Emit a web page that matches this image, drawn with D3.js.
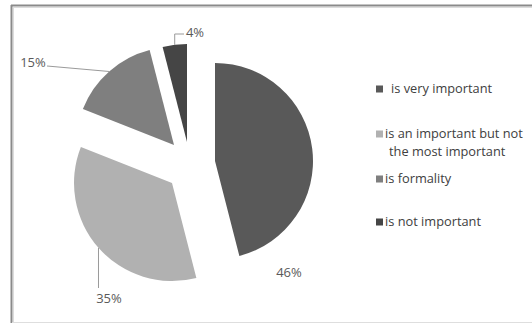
<!DOCTYPE html>
<html><head><meta charset="utf-8">
<script src="https://cdn.jsdelivr.net/npm/d3@7/dist/d3.min.js"></script>
<style>html,body{margin:0;padding:0;background:#fff;}svg{display:block;}</style>
</head><body>
<svg id="chart" width="532" height="323"></svg>
<script>
// ---- data ----
const categories = ["is very important", "is an important but not the most important", "is formality", "is not important"];
const legendLines = [["is very important"], ["is an important but not", "the most important"], ["is formality"], ["is not important"]];
const values = [46, 35, 15, 4];
const labels = ["46%", "35%", "15%", "4%"];

// ---- styling / layout config ----
const colors = ["#595959", "#b1b1b1", "#7f7f7f", "#454545"];
const center = [190, 161];
const radius = 98;
const explode = [[25, 0], [-18, 22], [-16, -16], [-3, -19]];
const labelPos = [[289, 272], [109, 298], [33, 62], [195, 32]];
const font = "'Open Sans', Lato, sans-serif";

const svg = d3.select("#chart");

// frame
svg.append("line").attr("x1", 11).attr("x2", 532).attr("y1", 5.5).attr("y2", 5.5).attr("stroke", "#8a8a8a").attr("stroke-width", 2);
svg.append("line").attr("x1", 11.5).attr("x2", 11.5).attr("y1", 5).attr("y2", 323).attr("stroke", "#8a8a8a").attr("stroke-width", 2);
svg.append("line").attr("x1", 13).attr("x2", 532).attr("y1", 7.5).attr("y2", 7.5).attr("stroke", "#dcdcdc").attr("stroke-width", 1);
svg.append("line").attr("x1", 13.5).attr("x2", 13.5).attr("y1", 7).attr("y2", 323).attr("stroke", "#dcdcdc").attr("stroke-width", 1);
svg.append("line").attr("x1", 12).attr("x2", 532).attr("y1", 322.5).attr("y2", 322.5).attr("stroke", "#dedede").attr("stroke-width", 1);

const pie = d3.pie().sort(null).value(d => d)(values);
const arc = d3.arc().innerRadius(0).outerRadius(radius);

const g = svg.append("g").attr("transform", `translate(${center[0]},${center[1]})`);
g.selectAll("path.slice").data(pie).join("path")
  .attr("class", "slice")
  .attr("transform", (d, i) => `translate(${explode[i][0]},${explode[i][1]})`)
  .attr("d", arc)
  .attr("fill", (d, i) => colors[i]);

// leader lines
const anchor = (d, i) => {
  const a = (d.startAngle + d.endAngle) / 2;
  return [center[0] + explode[i][0] + radius * Math.sin(a), center[1] + explode[i][1] - radius * Math.cos(a)];
};
const leaders = [];
{ const p = anchor(pie[1], 1); leaders.push([p, [p[0], labelPos[1][1] - 10]]); }
{ const p = anchor(pie[2], 2); leaders.push([p, [labelPos[2][0] + 14, labelPos[2][1] + 4]]); }
{ const p = anchor(pie[3], 3); leaders.push([p, [p[0], labelPos[3][1] + 2], [labelPos[3][0] - 11, labelPos[3][1] + 2]]); }
svg.selectAll("path.leader").data(leaders).join("path")
  .attr("class", "leader")
  .attr("d", d => d3.line()(d))
  .attr("fill", "none").attr("stroke", "#9a9a9a").attr("stroke-width", 1);

svg.selectAll("text.lbl").data(labels).join("text")
  .attr("class", "lbl")
  .attr("x", (d, i) => labelPos[i][0]).attr("y", (d, i) => labelPos[i][1])
  .attr("text-anchor", "middle").attr("dominant-baseline", "central")
  .attr("font-family", font).attr("font-size", 13)
  .attr("fill", "#5a5a5a").text(d => d);

// legend
const legendY = [89, 134, 179, 222];
const lg = svg.selectAll("g.leg").data(categories).join("g").attr("class", "leg")
  .attr("transform", (d, i) => `translate(376,${legendY[i]})`);
lg.append("rect").attr("x", 0).attr("y", -3.5).attr("width", 7).attr("height", 7)
  .attr("fill", (d, i) => colors[i]);
lg.each(function(d, i) {
  const t = d3.select(this).append("text")
    .attr("y", 0)
    .attr("font-family", font).attr("font-size", 12.8)
    .attr("fill", "#404040");
  legendLines[i].forEach((line, j) => {
    t.append("tspan").attr("x", j === 0 ? (i === 0 ? 15 : 9) : 13)
      .attr("dy", j === 0 ? "0.35em" : 18).text(line);
  });
});
</script>
</body></html>
